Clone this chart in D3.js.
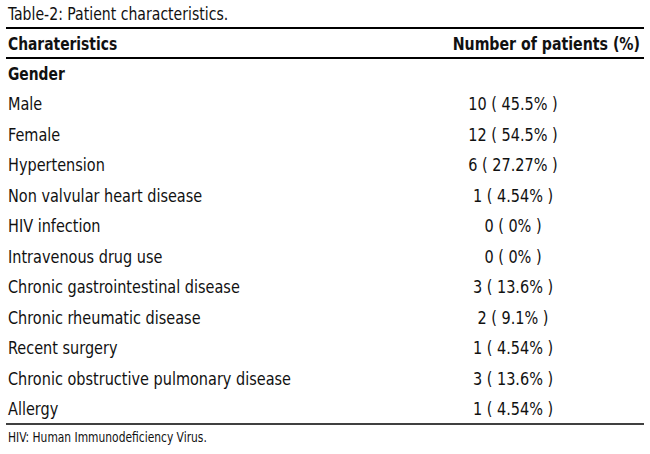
<!DOCTYPE html>
<html><head><meta charset="utf-8">
<script src="https://cdn.jsdelivr.net/npm/d3@7"></script>
<style>body{margin:0;background:#fff}text{font-family:"DejaVu Sans Condensed","DejaVu Sans";fill:#111}</style>
</head><body>
<svg id="c" width="650" height="454"></svg>
<script>
const title = "Table-2: Patient characteristics.";
const headers = ["Charateristics", "Number of patients (%)"];
const categories = ["Gender","Male","Female","Hypertension","Non valvular heart disease","HIV infection","Intravenous drug use","Chronic gastrointestinal disease","Chronic rheumatic disease","Recent surgery","Chronic obstructive pulmonary disease","Allergy"];
const values = ["","10 ( 45.5% )","12 ( 54.5% )","6 ( 27.27% )","1 ( 4.54% )","0 ( 0% )","0 ( 0% )","3 ( 13.6% )","2 ( 9.1% )","1 ( 4.54% )","3 ( 13.6% )","1 ( 4.54% )"];
const footnote = "HIV: Human Immunodeficiency Virus.";

const svg = d3.select("#c");
const SX = 0.92;
function txt(x, yy, s, size, opts={}) {
  return svg.append("text").attr("transform",`translate(${x},${yy}) scale(${opts.sx||SX},1)`)
    .attr("font-size",size).attr("font-weight",opts.bold?"bold":"normal")
    .attr("text-anchor",opts.anchor||"start").text(s);
}
const y = d3.scaleBand().domain(d3.range(categories.length)).range([58, 424]);
txt(8,20,title,17);
[[28,2],[58,2],[424,1.5]].forEach(([yy,w])=>svg.append("line").attr("x1",6).attr("x2",644).attr("y1",yy).attr("y2",yy).attr("stroke","#000").attr("stroke-width",w));
txt(8,50,headers[0],17.5,{bold:true,sx:0.88});
txt(640,50,headers[1],17.5,{bold:true,anchor:"end",sx:0.9});
categories.forEach((d,i)=>{
  const yy = y(i)+y.bandwidth()/2+6.5;
  txt(8,yy,d,17.5,{bold:i===0,sx:i===0?0.88:SX});
  txt(513,yy,values[i],17.5,{anchor:"middle"});
});
txt(8,442,footnote,14,{sx:0.85});
</script></body></html>
